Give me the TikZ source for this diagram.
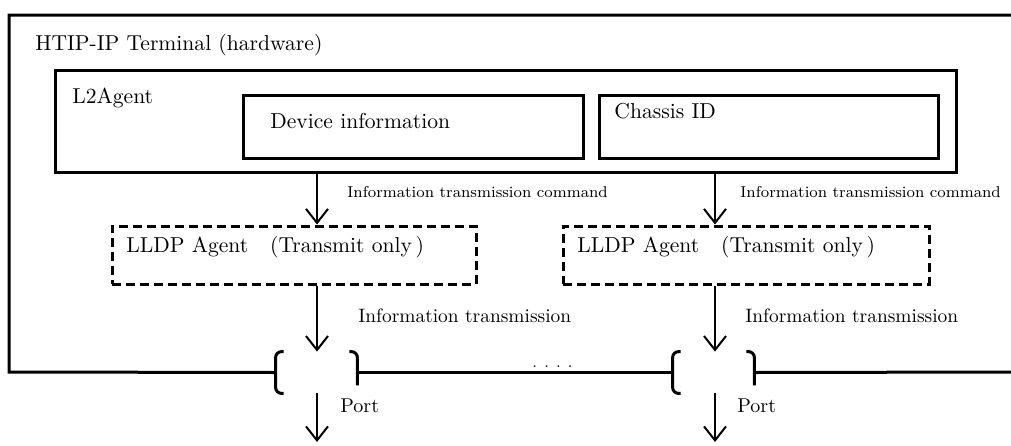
\documentclass[tikz,border=0pt]{standalone}
\usepackage{tikz}
\usetikzlibrary{positioning, arrows.meta, calc}

\begin{document}
\begin{tikzpicture}[
    x=0.5pt, y=-0.5pt,
    box/.style={rectangle, draw, line width=1.5pt, inner sep=0pt},
    agent box/.style={box, dash pattern=on 4.5pt off 2.5pt},
    port/.style={rectangle, inner sep=0pt, minimum width=40.5pt, minimum height=20.5pt},
    arrow/.style={-{Straight Barb[length=7pt, width=11pt, line width=1pt]}, line width=1pt},
    frame/.style={line width=1.5pt},
    txt/.style={inner sep=0pt, anchor=base west, font=\fontsize{10.8}{13}\selectfont},
    cmd/.style={inner sep=0pt, anchor=base west, font=\fontsize{7.9}{10}\selectfont},
    info/.style={inner sep=0pt, anchor=base west, font=\fontsize{9.7}{12}\selectfont},
]
    \useasboundingbox (0,0) rectangle (1011,445);

    % Boxes
    \node[box, minimum width=450.5pt, minimum height=51pt] (l2) at (505.5,121) {};
    \node[box, minimum width=170pt, minimum height=31.5pt] (dev) at (413,126.5) {};
    \node[box, minimum width=169.5pt, minimum height=31.5pt] (chassis) at (768.5,126.5) {};
    \node[agent box, minimum width=182pt, minimum height=29pt] (lldpa) at (294,255) {};
    \node[agent box, minimum width=183pt, minimum height=29pt] (lldpb) at (746,255) {};

    % Ports
    \node[port] (porta) at (316.5,372.5) {};
    \node[port] (portb) at (713.5,372.5) {};
    \coordinate (outa) at (317,442);
    \coordinate (outb) at (715,442);

    % Terminal frame
    \draw[frame] (1011,15) -- (9,15) -- (9,372) -- (porta.west);
    \draw[frame] (porta.east) -- (portb.west);
    \draw[frame] (portb.east) -- (1011,372);
    \foreach \p in {porta, portb} {
        \draw[frame, rounded corners=3pt] ([xshift=4pt]\p.north west) -- (\p.north west) -- (\p.south west) -- ([xshift=4pt]\p.south west);
        \draw[frame, rounded corners=3pt] ([xshift=-4pt]\p.north east) -- (\p.north east) -- ([yshift=4pt]\p.south east);
    }

    % Arrows
    \draw[arrow] (l2.south -| outa) -- (lldpa.north -| outa);
    \draw[arrow] (l2.south -| outb) -- (lldpb.north -| outb);
    \draw[arrow] (lldpa.south -| outa) -- (porta.north -| outa);
    \draw[arrow] (lldpb.south -| outb) -- (portb.north -| outb);
    \draw[arrow] (porta.south -| outa) -- (outa);
    \draw[arrow] (portb.south -| outb) -- (outb);

    % Labels
    \node[txt] (title) at (35,50) {HTIP-IP Terminal (hardware)};
    \node[txt] (l2lbl) at (72,103) {L2Agent};
    \node[txt] (devlbl) at (270,128) {Device information};
    \node[txt] (chlbl) at (614,118) {Chassis ID};
    \node[txt] (lldpalbl) at (126,252) {LLDP Agent\hspace{11pt}(Transmit only\,)};
    \node[txt] (lldpblbl) at (577,252) {LLDP Agent\hspace{11pt}(Transmit only\,)};
    \node[cmd] (cmda) at (347,197) {Information transmission command};
    \node[cmd] (cmdb) at (740,197) {Information transmission command};
    \node[info] (infoa) at (358,322) {Information transmission};
    \node[info] (infob) at (745,322) {Information transmission};
    \node[txt, font=\fontsize{10}{12}\selectfont] (porta lbl) at (340,412) {Port};
    \node[txt, font=\fontsize{10}{12}\selectfont] (portb lbl) at (737,412) {Port};
    \node[cmd] (dots) at (532,367) {.\hspace{3.6pt}.\hspace{3.6pt}.\hspace{3.6pt}.};
\end{tikzpicture}
\end{document}
